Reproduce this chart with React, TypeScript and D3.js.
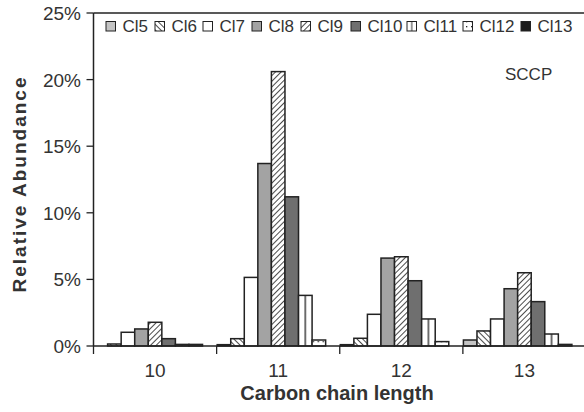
import React from "react";
import * as d3 from "d3";

const categories = ["10", "11", "12", "13"];
const seriesNames = ["Cl5", "Cl6", "Cl7", "Cl8", "Cl9", "Cl10", "Cl11", "Cl12", "Cl13"];
const cl5 = [0, 0.1, 0.1, 0.45];
const cl6 = [0.15, 0.55, 0.58, 1.13];
const cl7 = [1.03, 5.15, 2.38, 2.03];
const cl8 = [1.28, 13.7, 6.6, 4.3];
const cl9 = [1.78, 20.6, 6.7, 5.5];
const cl10 = [0.55, 11.2, 4.9, 3.33];
const cl11 = [0.12, 3.8, 2.03, 0.9];
const cl12 = [0.12, 0.45, 0.33, 0.12];
const cl13 = [0, 0, 0, 0];
const seriesValues = [cl5, cl6, cl7, cl8, cl9, cl10, cl11, cl12, cl13];
const yTicks = [0, 5, 10, 15, 20, 25];

const fills = [
  "#c4c4c4",
  "url(#hatchBack)",
  "#ffffff",
  "#a3a3a3",
  "url(#hatchFwd)",
  "#6f6f6f",
  "url(#vline)",
  "url(#dots)",
  "#1c1c1c",
];

const W = 584;
const H = 412;
const left = 93.5;
const right = 586;
const top = 13;
const bottom = 346;
const FONT = "'Liberation Sans', Arial, Helvetica, sans-serif";
const INK = "#222";

export default function App() {
  const x0 = d3.scaleBand<string>().domain(categories).range([left, right]).paddingInner(0).paddingOuter(0);
  const x1 = d3
    .scaleBand<string>()
    .domain(seriesNames)
    .range([0, x0.bandwidth()])
    .paddingInner(0)
    .paddingOuter(0.04);
  const y = d3.scaleLinear().domain([0, 25]).range([bottom, top]);

  const legendX = [106, 155, 203, 252, 301, 351, 407, 463, 521];

  return (
    <svg
      width={W}
      height={H}
      style={{ position: "absolute", left: 0, top: 0, background: "#fff" }}
      fontFamily={FONT}
    >
      <defs>
        <pattern id="hatchFwd" patternUnits="userSpaceOnUse" width="4" height="4" patternTransform="rotate(45)">
          <rect width="4" height="4" fill="#fff" />
          <line x1="0" y1="0" x2="0" y2="4" stroke="#2a2a2a" strokeWidth="1.7" />
        </pattern>
        <pattern id="hatchBack" patternUnits="userSpaceOnUse" width="4" height="4" patternTransform="rotate(-45)">
          <rect width="4" height="4" fill="#fff" />
          <line x1="0" y1="0" x2="0" y2="4" stroke="#2a2a2a" strokeWidth="1.7" />
        </pattern>
        <pattern id="vline" patternUnits="objectBoundingBox" patternContentUnits="objectBoundingBox" width="1" height="1">
          <rect width="1" height="1" fill="#fff" />
          <rect x="0.45" y="0" width="0.1" height="1" fill="#2a2a2a" />
        </pattern>
        <pattern id="dots" patternUnits="userSpaceOnUse" width="5" height="5">
          <rect width="5" height="5" fill="#fff" />
          <rect x="1" y="1" width="1.3" height="1.3" fill="#2a2a2a" />
        </pattern>
      </defs>

      {/* plot frame top */}
      <line x1={left} x2={W} y1={top} y2={top} stroke={INK} strokeWidth={1.5} />

      {/* bars */}
      {categories.map((c, ci) => (
        <g key={c} transform={`translate(${x0(c)},0)`}>
          {seriesNames.map((s, si) => {
            const v = seriesValues[si][ci];
            if (v <= 0) return null;
            const yy = y(v);
            return (
              <rect
                key={s}
                x={x1(s)}
                y={yy}
                width={x1.bandwidth()}
                height={bottom - yy}
                fill={fills[si]}
                stroke={INK}
                strokeWidth={1.5}
              />
            );
          })}
        </g>
      ))}

      {/* y axis */}
      <line x1={left} x2={left} y1={top} y2={bottom} stroke={INK} strokeWidth={1.5} />
      {yTicks.map((t) => (
        <g key={t}>
          <line x1={left - 7} x2={left} y1={y(t)} y2={y(t)} stroke={INK} strokeWidth={1.3} />
          <text x={81} y={y(t) + 7} textAnchor="end" fontSize={19} fill="#333">
            {t}%
          </text>
        </g>
      ))}

      {/* x axis */}
      <line x1={left} x2={W} y1={bottom} y2={bottom} stroke={INK} strokeWidth={1.5} />
      {categories.map((c) => (
        <line key={"t" + c} x1={x0(c)!} x2={x0(c)!} y1={bottom} y2={bottom + 8} stroke={INK} strokeWidth={1.3} />
      ))}
      {categories.map((c) => (
        <text
          key={"l" + c}
          x={x0(c)! + x0.bandwidth() / 2}
          y={377}
          textAnchor="middle"
          fontSize={19}
          fill="#333"
        >
          {c}
        </text>
      ))}

      <text x={337} y={400} textAnchor="middle" fontSize={20} fontWeight="bold" fill="#333">
        Carbon chain length
      </text>
      <text
        transform={`translate(26,184) rotate(-90)`}
        textAnchor="middle"
        fontSize={19}
        fontWeight="bold"
        letterSpacing={2}
        fill="#333"
      >
        Relative Abundance
      </text>

      <text x={505} y={80} fontSize={17} fill="#333">
        SCCP
      </text>

      {/* legend */}
      {seriesNames.map((s, i) => (
        <g key={"lg" + s}>
          <rect x={legendX[i]} y={21.5} width={9.5} height={9.5} fill={fills[i]} stroke={INK} strokeWidth={1} />
          <text x={legendX[i] + 16.5} y={31.5} fontSize={17} fill="#333">
            {s}
          </text>
        </g>
      ))}
    </svg>
  );
}
